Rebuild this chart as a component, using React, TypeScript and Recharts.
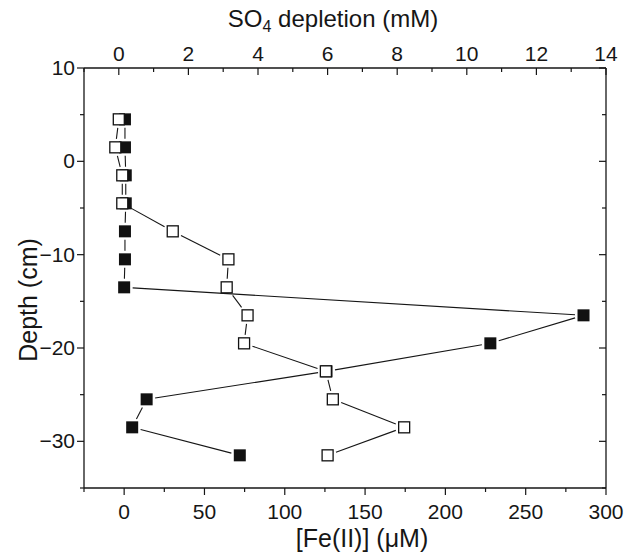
import React from "react";
import { ScatterChart, Scatter, XAxis, YAxis, Label } from "recharts";

// depth of each sample (cm) and the two profiles
const depths = [4.5, 1.5, -1.5, -4.5, -7.5, -10.5, -13.5, -16.5, -19.5, -22.5, -25.5, -28.5, -31.5];
const feValues = [0.5, 0.5, 1, 1, 0.5, 0.5, 0, 286, 228, 126, 14, 5, 72];
const so4Values = [0, -0.1, 0.1, 0.1, 1.55, 3.15, 3.1, 3.7, 3.6, 5.95, 6.15, 8.2, 6.0];

const feTicks = [-25, 0, 25, 50, 75, 100, 125, 150, 175, 200, 225, 250, 275, 300];
const so4Ticks = [-1, 0, 1, 2, 3, 4, 5, 6, 7, 8, 9, 10, 11, 12, 13, 14];
const depthTicks = [10, 5, 0, -5, -10, -15, -20, -25, -30, -35];

const FONT = '"Liberation Sans", Arial, Helvetica, sans-serif';
const INK = "#161616";
const TICK_FS = 21;
const HALF = 6; // half marker size, used to cut the joining lines short
const GAP = 2.5;

const feData = depths.map((d, i) => ({ depth: d, fe: feValues[i] }));
const so4Data = depths.map((d, i) => ({ depth: d, so4: so4Values[i] }));

function BottomTick(props: any) {
  const { x, y, payload } = props;
  const major = payload.value % 50 === 0;
  return (
    <g>
      <line x1={x} x2={x} y1={y} y2={y + (major ? 7 : 4)} stroke={INK} strokeWidth={1.2} />
      {major && (
        <text x={x} y={y + 31} textAnchor="middle" fontSize={TICK_FS} fill={INK} fontFamily={FONT}>
          {payload.value}
        </text>
      )}
    </g>
  );
}

function TopTick(props: any) {
  const { x, y, payload } = props;
  const major = payload.value % 2 === 0;
  return (
    <g>
      <line x1={x} x2={x} y1={y} y2={y + (major ? 7 : 4)} stroke={INK} strokeWidth={1.2} />
      {major && payload.value >= 0 && (
        <text x={x} y={y - 7} textAnchor="middle" fontSize={TICK_FS} fill={INK} fontFamily={FONT}>
          {payload.value}
        </text>
      )}
    </g>
  );
}

function LeftTick(props: any) {
  const { x, y, payload } = props;
  const major = payload.value % 10 === 0;
  return (
    <g>
      <line x1={x - (major ? 7 : 4)} x2={x} y1={y} y2={y} stroke={INK} strokeWidth={1.2} />
      {major && (
        <text x={x - 9} y={y + 7} textAnchor="end" fontSize={TICK_FS} fill={INK} fontFamily={FONT}>
          {payload.value < 0 ? "\u2212" + Math.abs(payload.value) : payload.value}
        </text>
      )}
    </g>
  );
}

function RightTick(props: any) {
  const { x, y, payload } = props;
  const major = payload.value % 10 === 0;
  return <line x1={x} x2={x - (major ? 7 : 4)} y1={y} y2={y} stroke={INK} strokeWidth={1.2} />;
}

function FilledSquare(props: any) {
  const { cx, cy } = props;
  return <rect x={cx - HALF} y={cy - HALF} width={HALF * 2} height={HALF * 2} fill="#111" />;
}

function OpenSquare(props: any) {
  const { cx, cy } = props;
  return (
    <rect x={cx - 5.5} y={cy - 5.5} width={11} height={11} fill="#fff" stroke="#111" strokeWidth={1.3} />
  );
}

// joins the points but stops short of each marker, like the original plot
function GapLine(props: any) {
  const pts = props.points || [];
  const segs = [];
  for (let i = 0; i < pts.length - 1; i++) {
    const a = pts[i];
    const b = pts[i + 1];
    const dx = b.x - a.x;
    const dy = b.y - a.y;
    const len = Math.hypot(dx, dy);
    if (!len) continue;
    const ux = dx / len;
    const uy = dy / len;
    const cut = HALF / Math.max(Math.abs(ux), Math.abs(uy)) + GAP;
    if (len <= cut * 2) continue;
    segs.push(
      <line
        key={i}
        x1={a.x + ux * cut}
        y1={a.y + uy * cut}
        x2={b.x - ux * cut}
        y2={b.y - uy * cut}
        stroke={INK}
        strokeWidth={1.1}
      />
    );
  }
  return <g>{segs}</g>;
}

export default function App() {
  return (
    <div style={{ position: "absolute", left: 0, top: 0, width: 625, height: 553, background: "#fff" }}>
      <ScatterChart width={625} height={553} margin={{ top: 0, right: 0, bottom: 0, left: 0 }}>
        <XAxis
          xAxisId="fe"
          dataKey="fe"
          type="number"
          orientation="bottom"
          domain={[-25, 300]}
          ticks={feTicks}
          interval={0}
          allowDataOverflow
          height={65}
          tickSize={0}
          tickMargin={0}
          tickLine={false}
          tick={BottomTick}
          axisLine={{ stroke: INK, strokeWidth: 1.3 }}
        >
          <Label
            content={() => (
              <text x={362} y={547} textAnchor="middle" fontSize={25} fill={INK} fontFamily={FONT}>
                [Fe(II)] (μM)
              </text>
            )}
          />
        </XAxis>
        <XAxis
          xAxisId="so4"
          dataKey="so4"
          type="number"
          orientation="top"
          domain={[-1, 14]}
          ticks={so4Ticks}
          interval={0}
          allowDataOverflow
          height={68}
          tickSize={0}
          tickMargin={0}
          tickLine={false}
          tick={TopTick}
          axisLine={{ stroke: INK, strokeWidth: 1.3 }}
        >
          <Label
            content={() => (
              <text x={333} y={27} textAnchor="middle" fontSize={24} fill={INK} fontFamily={FONT}>
                <tspan>SO</tspan>
                <tspan fontSize={16} dy={5}>4</tspan>
                <tspan dy={-5}> depletion (mM)</tspan>
              </text>
            )}
          />
        </XAxis>
        <YAxis
          yAxisId="left"
          dataKey="depth"
          type="number"
          domain={[-35, 10]}
          ticks={depthTicks}
          interval={0}
          allowDataOverflow
          width={84}
          tickSize={0}
          tickMargin={0}
          tickLine={false}
          tick={LeftTick}
          axisLine={{ stroke: INK, strokeWidth: 1.3 }}
        >
          <Label
            content={() => (
              <text
                x={0}
                y={0}
                transform="translate(37,300) rotate(-90)"
                textAnchor="middle"
                fontSize={25}
                fill={INK}
                fontFamily={FONT}
              >
                Depth (cm)
              </text>
            )}
          />
        </YAxis>
        <YAxis
          yAxisId="right"
          dataKey="depth"
          type="number"
          orientation="right"
          domain={[-35, 10]}
          ticks={depthTicks}
          interval={0}
          allowDataOverflow
          width={19}
          tickSize={0}
          tickMargin={0}
          tickLine={false}
          tick={RightTick}
          axisLine={{ stroke: INK, strokeWidth: 1.3 }}
        />
        <Scatter
          name="Fe(II)"
          data={feData}
          xAxisId="fe"
          yAxisId="left"
          shape={FilledSquare}
          line={GapLine}
          isAnimationActive={false}
        />
        <Scatter
          name="SO4 depletion"
          data={so4Data}
          xAxisId="so4"
          yAxisId="left"
          shape={OpenSquare}
          line={GapLine}
          isAnimationActive={false}
        />
      </ScatterChart>
    </div>
  );
}
